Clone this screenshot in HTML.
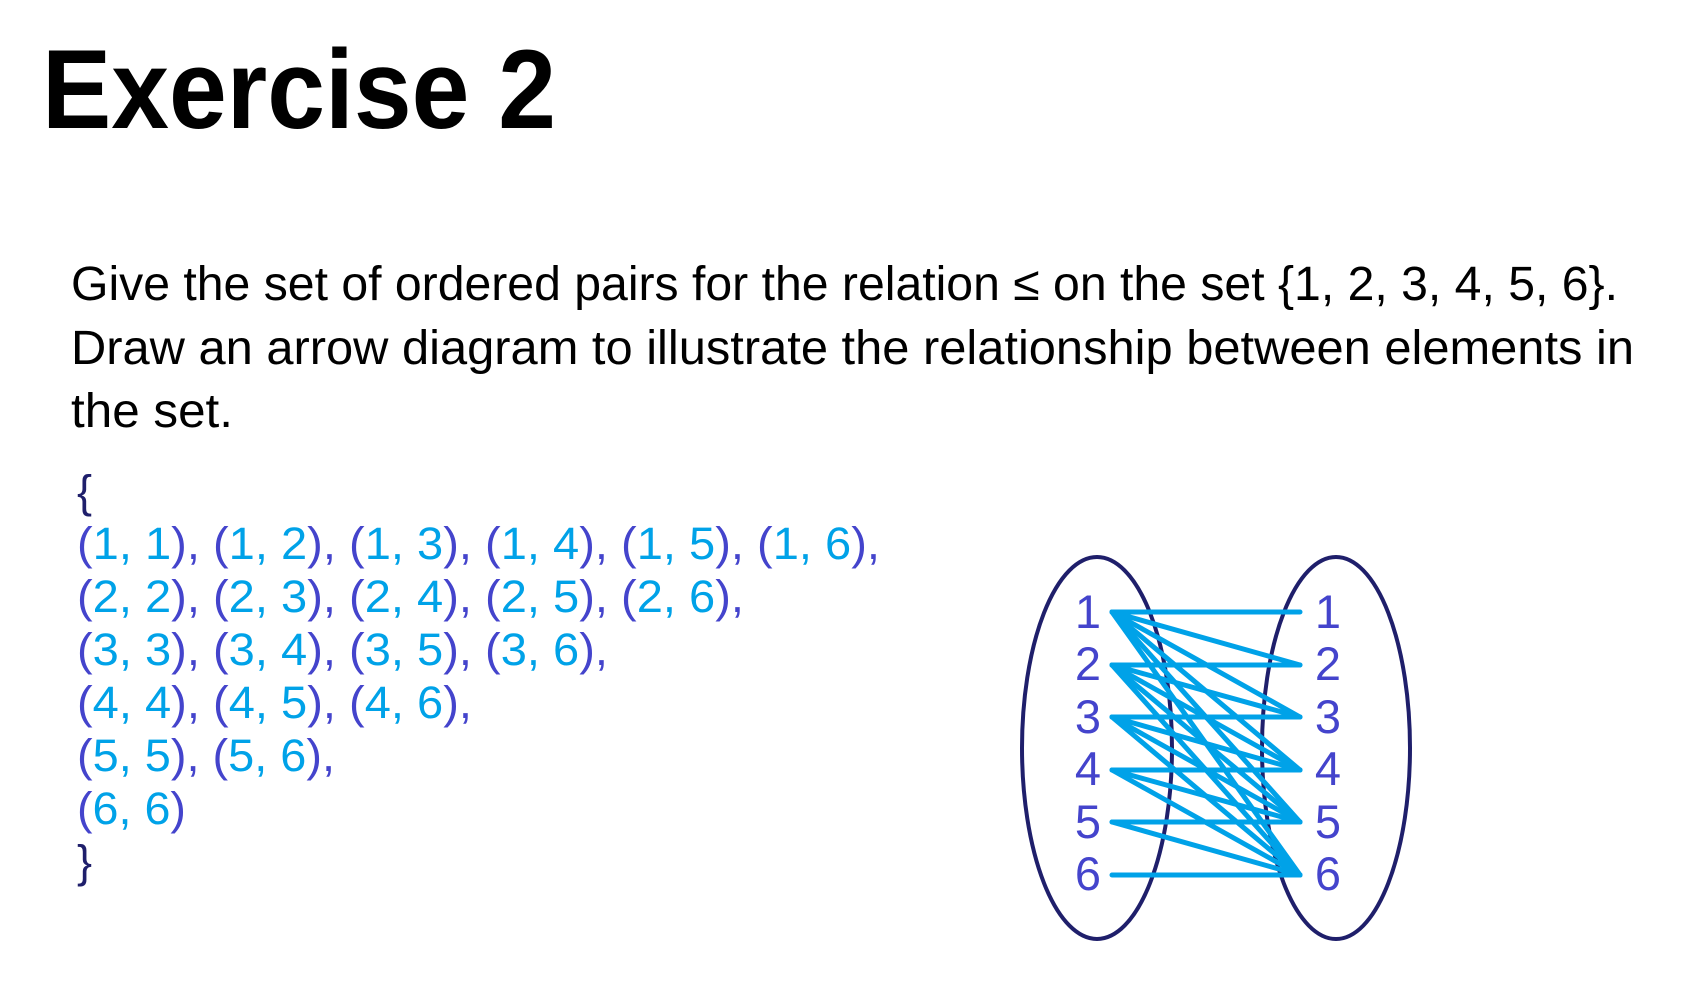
<!DOCTYPE html>
<html><head><meta charset="utf-8"><style>
html,body{margin:0;padding:0;background:#fff;}
svg{display:block;}
</style></head><body>
<svg width="1704" height="1006" viewBox="0 0 1704 1006" xmlns="http://www.w3.org/2000/svg">
<text x="42" y="128" font-family="Liberation Sans, sans-serif" font-weight="bold" font-size="112" textLength="514" lengthAdjust="spacingAndGlyphs" fill="#000">Exercise 2</text>
<g font-family="Liberation Sans, sans-serif" font-size="48" fill="#000">
<text x="71" y="300" textLength="1547" lengthAdjust="spacingAndGlyphs">Give the set of ordered pairs for the relation ≤ on the set {1, 2, 3, 4, 5, 6}.</text>
<text x="71" y="364" textLength="1563" lengthAdjust="spacingAndGlyphs">Draw an arrow diagram to illustrate the relationship between elements in</text>
<text x="71" y="427" textLength="162" lengthAdjust="spacingAndGlyphs">the set.</text>
</g>
<g font-family="Liberation Sans, sans-serif" font-size="45">
<text x="77" y="507" fill="#1f1f6b">{</text>
<text x="77" y="559" textLength="803" lengthAdjust="spacingAndGlyphs"><tspan fill="#4444cc">(</tspan><tspan fill="#00a2e8">1, 1</tspan><tspan fill="#4444cc">), (</tspan><tspan fill="#00a2e8">1, 2</tspan><tspan fill="#4444cc">), (</tspan><tspan fill="#00a2e8">1, 3</tspan><tspan fill="#4444cc">), (</tspan><tspan fill="#00a2e8">1, 4</tspan><tspan fill="#4444cc">), (</tspan><tspan fill="#00a2e8">1, 5</tspan><tspan fill="#4444cc">), (</tspan><tspan fill="#00a2e8">1, 6</tspan><tspan fill="#4444cc">),</tspan></text>
<text x="77" y="612" textLength="667" lengthAdjust="spacingAndGlyphs"><tspan fill="#4444cc">(</tspan><tspan fill="#00a2e8">2, 2</tspan><tspan fill="#4444cc">), (</tspan><tspan fill="#00a2e8">2, 3</tspan><tspan fill="#4444cc">), (</tspan><tspan fill="#00a2e8">2, 4</tspan><tspan fill="#4444cc">), (</tspan><tspan fill="#00a2e8">2, 5</tspan><tspan fill="#4444cc">), (</tspan><tspan fill="#00a2e8">2, 6</tspan><tspan fill="#4444cc">),</tspan></text>
<text x="77" y="665" textLength="531" lengthAdjust="spacingAndGlyphs"><tspan fill="#4444cc">(</tspan><tspan fill="#00a2e8">3, 3</tspan><tspan fill="#4444cc">), (</tspan><tspan fill="#00a2e8">3, 4</tspan><tspan fill="#4444cc">), (</tspan><tspan fill="#00a2e8">3, 5</tspan><tspan fill="#4444cc">), (</tspan><tspan fill="#00a2e8">3, 6</tspan><tspan fill="#4444cc">),</tspan></text>
<text x="77" y="718" textLength="395" lengthAdjust="spacingAndGlyphs"><tspan fill="#4444cc">(</tspan><tspan fill="#00a2e8">4, 4</tspan><tspan fill="#4444cc">), (</tspan><tspan fill="#00a2e8">4, 5</tspan><tspan fill="#4444cc">), (</tspan><tspan fill="#00a2e8">4, 6</tspan><tspan fill="#4444cc">),</tspan></text>
<text x="77" y="771" textLength="258" lengthAdjust="spacingAndGlyphs"><tspan fill="#4444cc">(</tspan><tspan fill="#00a2e8">5, 5</tspan><tspan fill="#4444cc">), (</tspan><tspan fill="#00a2e8">5, 6</tspan><tspan fill="#4444cc">),</tspan></text>
<text x="77" y="824" textLength="109" lengthAdjust="spacingAndGlyphs"><tspan fill="#4444cc">(</tspan><tspan fill="#00a2e8">6, 6</tspan><tspan fill="#4444cc">)</tspan></text>
<text x="77" y="877" fill="#1f1f6b">}</text>
</g>
<g fill="none" stroke="#1f1f6b" stroke-width="4">
<ellipse cx="1097" cy="748" rx="75" ry="191"/>
<ellipse cx="1336" cy="748" rx="74" ry="191"/>
</g>
<g font-family="Liberation Sans, sans-serif" font-size="47" fill="#4444cc" text-anchor="middle">
<text x="1088" y="628">1</text><text x="1088" y="680">2</text><text x="1088" y="733">3</text><text x="1088" y="785">4</text><text x="1088" y="838">5</text><text x="1088" y="890">6</text>
<text x="1328" y="628">1</text><text x="1328" y="680">2</text><text x="1328" y="733">3</text><text x="1328" y="785">4</text><text x="1328" y="838">5</text><text x="1328" y="890">6</text>
</g>
<g stroke="#00a2e8" stroke-width="5" stroke-linecap="round">
<line x1="1112" y1="612" x2="1300" y2="612"/><line x1="1112" y1="612" x2="1300" y2="665"/><line x1="1112" y1="612" x2="1300" y2="717"/><line x1="1112" y1="612" x2="1300" y2="770"/><line x1="1112" y1="612" x2="1300" y2="822"/><line x1="1112" y1="612" x2="1300" y2="875"/>
<line x1="1112" y1="665" x2="1300" y2="665"/><line x1="1112" y1="665" x2="1300" y2="717"/><line x1="1112" y1="665" x2="1300" y2="770"/><line x1="1112" y1="665" x2="1300" y2="822"/><line x1="1112" y1="665" x2="1300" y2="875"/>
<line x1="1112" y1="717" x2="1300" y2="717"/><line x1="1112" y1="717" x2="1300" y2="770"/><line x1="1112" y1="717" x2="1300" y2="822"/><line x1="1112" y1="717" x2="1300" y2="875"/>
<line x1="1112" y1="770" x2="1300" y2="770"/><line x1="1112" y1="770" x2="1300" y2="822"/><line x1="1112" y1="770" x2="1300" y2="875"/>
<line x1="1112" y1="822" x2="1300" y2="822"/><line x1="1112" y1="822" x2="1300" y2="875"/>
<line x1="1112" y1="875" x2="1300" y2="875"/>
</g>
</svg>
</body></html>
